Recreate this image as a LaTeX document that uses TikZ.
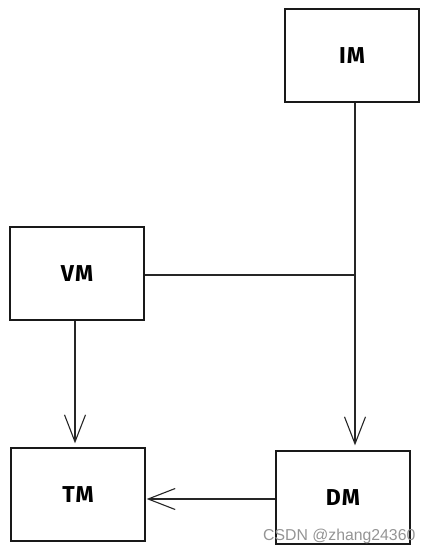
\documentclass[tikz,border=0pt]{standalone}
\usepackage{fontspec}
\setmainfont{Fira Sans}
\newfontfamily\wmfont{Liberation Sans}
\usetikzlibrary{arrows.meta}
\tikzset{
  x=1pt, y=-1pt,
  box/.style={draw=black!90, line width=1.3pt, rectangle, inner sep=0pt, minimum width=134pt, minimum height=93pt, font=\fontsize{23}{25}\selectfont\bfseries},
  conn/.style={draw=black!85, line width=1.1pt},
  arr/.style={conn, -{Straight Barb[length=27pt,width=21pt,line width=1.1pt]}},
}
\begin{document}
\begin{tikzpicture}
\useasboundingbox (0,0) rectangle (429,554);
\node[box] (IM) at (352,55.5) {I\kern1ptM};
\node[box] (VM) at (77,273.5) {V\kern1ptM};
\node[box] (TM) at (78,494.5) {T\kern1ptM};
\node[box] (DM) at (343,497.5) {D\kern1ptM};
\coordinate (J) at (355,275);
\draw[conn] (VM.east |- J) -- (J);
\draw[arr] (IM.south -| J) -- ([yshift=5pt]DM.north -| J);
\draw[arr] (VM.south -| 75,0) -- ([yshift=4pt]TM.north -| 75,0);
\draw[arr] (DM.west |- 0,499) -- ([xshift=1pt]TM.east |- 0,499);
\node[font=\wmfont\fontsize{15.8}{17}\selectfont, text=black!42, anchor=base west, inner sep=0pt] (wm) at (263,540) {CSDN @zhang24360};
\end{tikzpicture}
\end{document}
